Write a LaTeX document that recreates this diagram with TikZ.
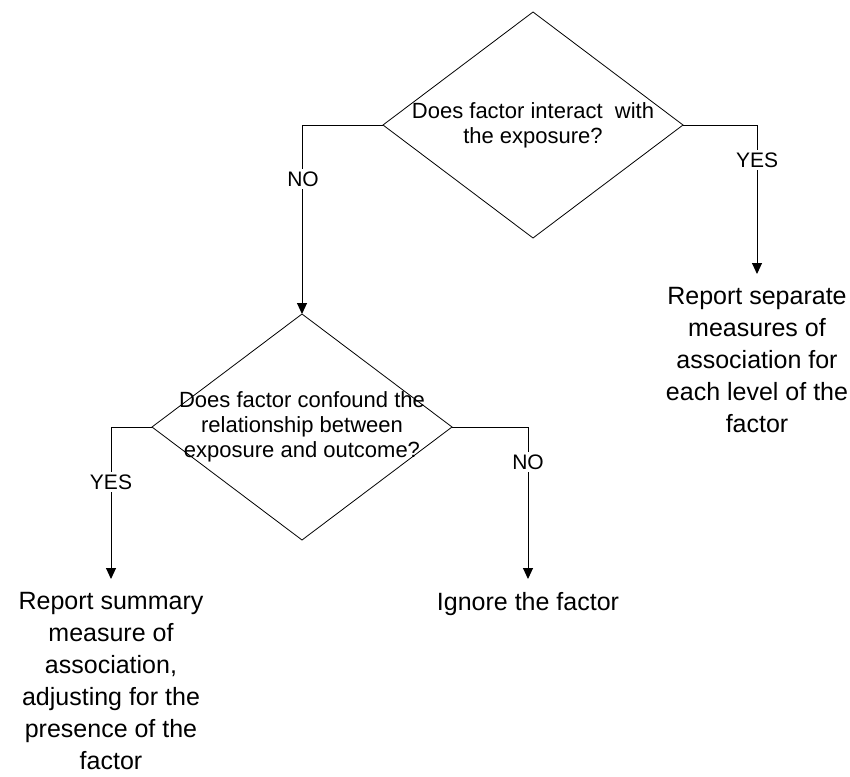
\documentclass[tikz,border=0pt]{standalone}
\usepackage{fontspec}
\setmainfont{Liberation Sans}
\usetikzlibrary{shapes.geometric,arrows.meta}
\begin{document}
\begin{tikzpicture}[x=1pt,y=-1pt,
  decision/.style={diamond, draw, line width=0.8pt, minimum width=300pt, minimum height=226pt, inner sep=0pt, outer sep=0pt},
  qtext/.style={align=center, font=\fontsize{22}{25}\selectfont, inner sep=0pt},
  restext/.style={align=center, font=\fontsize{25}{32}\selectfont, inner xsep=0pt, inner ysep=13.5pt, outer sep=0pt, anchor=north},
  lbl/.style={fill=white, font=\fontsize{21}{24}\selectfont, inner sep=3pt},
  conn/.style={line width=1pt, -{Triangle[length=11pt,width=10pt]}},
  ]
\useasboundingbox (0,0) rectangle (850,776);
\fill[white] (0,0) rectangle (850,776);

\node[decision] (d1) at (533,125) {};
\node[qtext] (q1) at (533,125) {Does factor interact~ with\\the exposure?};

\node[decision] (d2) at (302,427) {};
\node[qtext] (q2) at (302,427) {Does factor confound the\\relationship between\\exposure and outcome?};

\node[restext] (r1) at (757,274) {Report separate\\measures of\\association for\\each level of the\\factor};
\node[restext] (r2) at (111,579) {Report summary\\measure of\\association,\\adjusting for the\\presence of the\\factor};
\node[restext] (r3) at (528,579) {Ignore the factor};

\draw[conn] (d1.west) -| (d2.north);
\draw[conn] (d1.east) -| (r1.north);
\draw[conn] (d2.west) -| (r2.north);
\draw[conn] (d2.east) -| (r3.north);

\node[lbl] (n1) at (303,179) {NO};
\node[lbl] (y1) at (757,160) {YES};
\node[lbl] (y2) at (111,482) {YES};
\node[lbl] (n2) at (528,462) {NO};
\end{tikzpicture}
\end{document}
